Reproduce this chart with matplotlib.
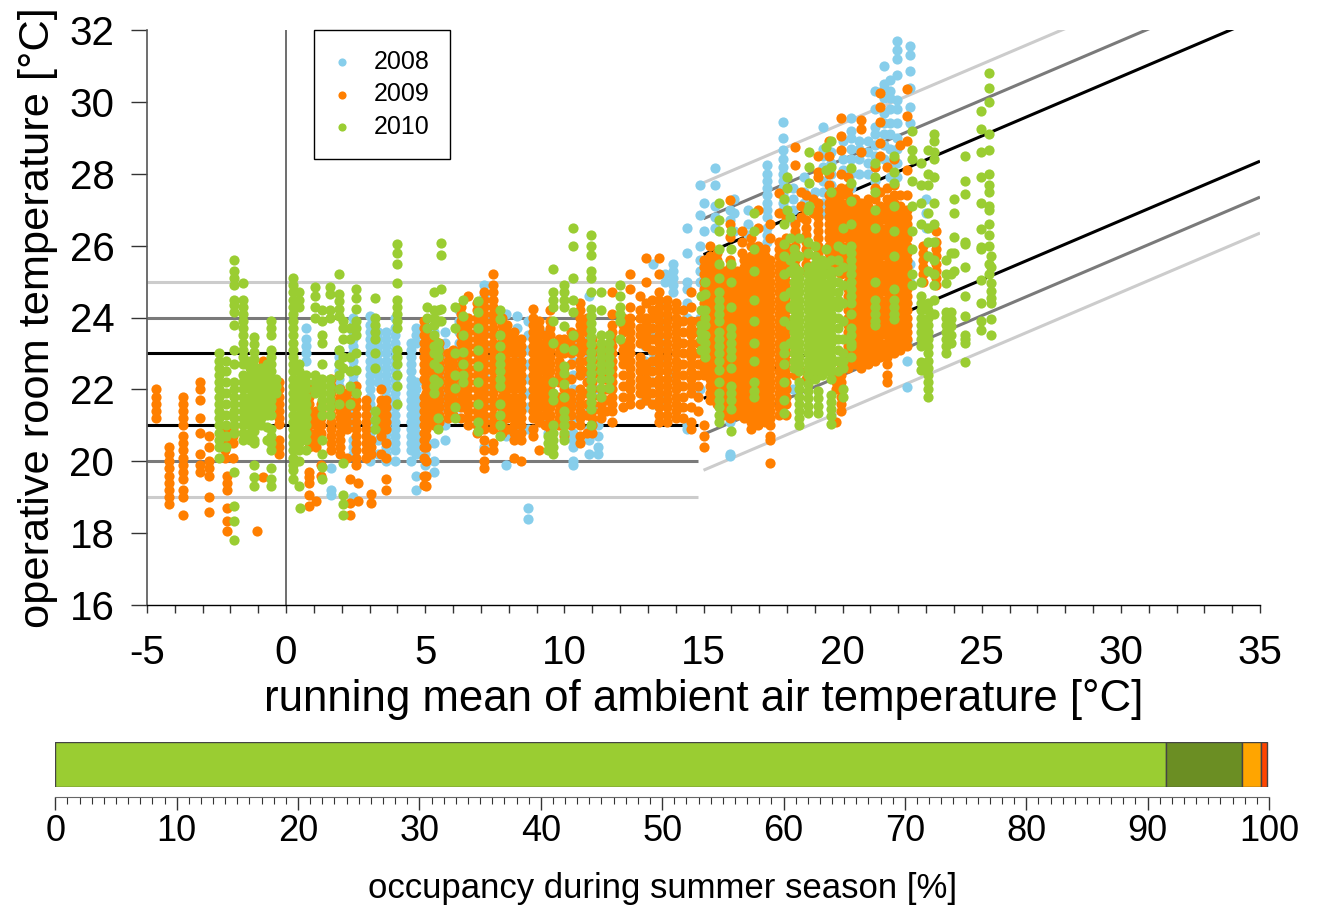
import matplotlib
matplotlib.use('Agg')
import matplotlib.pyplot as plt
from matplotlib.ticker import MultipleLocator

plt.rcParams['font.family'] = ['Liberation Sans', 'DejaVu Sans']
plt.rcParams['axes.unicode_minus'] = False

# columns of readings, (running mean, [room temperatures])
pts_2008 = [
    (0.72,[23.7,23.4,23.2,23.0,22.8]),
    (1.6,[19.8,19.05,19.2]),
    (1.9,[23.1,22.9,22.7,22.5,22.3,22.1]),
    (2.4,[24.0,23.8,23.6,23.4,23.2,23.0,22.8,22.6,22.4,22.2,22.0,21.8,21.6,21.4,21.2,21.0,20.6,20.4,20.2,19.0]),
    (3.0,[24.05,23.8,23.6,23.4,23.2,23.0,22.8,22.6,22.4,22.2,22.0,21.8,21.6,21.4,21.2,21.0,20.8,20.6,20.4,20.2,20.0]),
    (3.3,[23.6,23.4,23.2,23.0,22.8,22.6,22.4,22.2,21.4,21.0,20.6,20.2]),
    (3.6,[23.6,23.4,23.2,23.0,22.8,22.6,22.4,22.2,22.0,21.8,21.6,21.4,21.2,21.0,20.8,20.6,20.4,20.2,20.0]),
    (3.9,[24.0,23.7,23.5,23.3,23.1,22.9,22.7,22.5,22.3,22.1,21.9,21.7,21.5,21.3,21.1,20.9,20.7,20.5,20.3,20.0]),
    (4.5,[23.3,23.1,22.9,22.7,22.5,22.3,22.1,21.9,21.7,21.5,21.3,21.1,20.9,20.7,20.5,20.3,20.0]),
    (4.67,[23.7,23.5,23.3,22.2,22.0,21.8,21.6,21.4,21.2,21.0,20.8,20.6,20.4,20.2,19.6,19.2]),
    (5.0,[23.8,23.4,23.0,22.6,22.2,21.8,21.4,21.0,20.6,20.2,19.9]),
    (5.3,[23.6,23.0,22.4,22.0,21.0,20.5,20.0,19.7]),
    (5.7,[23.6,23.3,23.0,22.7,22.4,22.1,21.8,21.5,21.0,20.6]),
    (6.2,[24.2,23.9,23.6,23.3,23.0,22.7,22.4,22.1,21.8,21.5,21.2]),
    (7.1,[24.9,24.6,24.3,24.0,23.6,23.2,22.8,22.4,22.0,21.6,21.2,20.4]),
    (7.9,[24.1,23.8,23.5,23.2,22.8,22.4,22.0,21.6,21.2,20.7,19.9]),
    (8.3,[24.05,23.7,23.3,22.9,22.5,22.1,21.7,21.3,20.8]),
    (8.7,[23.9,23.5,23.1,22.7,22.3,21.9,21.5,20.9,18.7,18.4]),
    (9.4,[23.6,23.2,22.8,22.4,22.0,21.6,21.2,20.8]),
    (10.3,[23.2,22.8,22.4,22.0,21.6,21.2,20.8,20.6,20.4,19.9,20.0]),
    (10.9,[24.6,23.4,22.9,22.4,21.9,21.4,20.9,20.6,20.2]),
    (11.2,[23.0,22.5,22.0,21.5,21.0,20.7,20.4,20.2]),
    (12.9,[23.2,22.8,22.4,22.0,21.7]),
    (13.2,[25.5,24.0,23.5,23.0,22.6,22.2,21.6]),
    (13.6,[25.2,25.0,24.4,23.9,23.3,22.8,21.7]),
    (13.9,[25.5,25.3,25.1,24.9,24.7,22.4]),
    (14.4,[26.5,25.8,25.0,24.8,24.4,24.0,21.0,20.9]),
    (14.86,[27.7,26.85,26.0,25.6,25.3,25.0,24.0,22.0]),
    (15.0,[27.2,26.4,25.5,25.1,24.7]),
    (15.4,[28.15,27.7,27.1,26.8,26.5]),
    (15.94,[21.1,20.15,20.2,27.0,26.7]),
    (16.1,[27.3,26.9,26.4]),
    (16.6,[27.0,26.6,26.3]),
    (17.3,[28.25,28.0,27.8,27.6,27.4,27.2,27.0,26.8,26.5,26.3,26.1]),
    (17.85,[29.45,29.0,28.65,28.4,28.2,28.0,27.8,27.6,27.4,27.2,27.0]),
    (18.2,[27.6,27.3,27.0,26.7,22.0]),
    (18.6,[27.9,27.5,27.2]),
    (19.0,[27.5,27.2,27.0]),
    (19.3,[29.3,28.7,28.5,28.2,27.8,27.5,27.2,26.9]),
    (19.6,[28.6,28.3,28.0,27.7]),
    (20.0,[28.9,28.4,28.1]),
    (20.3,[29.55,29.2,29.0,28.7,28.4,28.0,27.6,27.2]),
    (20.6,[28.9,28.7,28.4,28.0,22.7]),
    (20.9,[28.9,28.6,28.3,28.0]),
    (21.15,[30.3,29.8,29.3,29.1,28.8,28.5,28.2,27.8]),
    (21.5,[31.0,30.5,30.4,30.1,29.7,29.4,29.1,28.8,28.4]),
    (21.7,[30.6,30.3,30.1,29.8,29.4,29.1,28.7,28.3,27.9,23.3]),
    (21.96,[31.7,31.45,31.2,30.75,30.05,29.8,29.4,29.0,28.7,28.3,27.9]),
    (22.3,[23.8,23.35,22.8,22.07,25.0,24.4]),
    (22.43,[31.55,31.3,30.85,30.4,29.85,29.4,25.5,25.0]),
    (23.0,[27.3,26.9,26.5]),
]

pts_2009 = [
    (-4.66,[22.0,21.8,21.6,21.4,21.2]),
    (-4.22,[20.4,20.2,20.0,19.8,19.6,19.4,19.2,19.0,18.8]),
    (-3.7,[21.8,21.6,21.4,21.2,21.0,20.7,20.5,20.3,20.1,19.9,19.7,19.5,19.2,19.0,18.5]),
    (-3.08,[22.2,22.0,21.7,21.2,20.8,20.2,19.9,19.7]),
    (-2.78,[20.7,20.4,20.0,19.8,19.6,19.0,18.6]),
    (-2.2,[20.9,20.7,20.5,20.3,20.1]),
    (-2.12,[19.6,19.4,19.2,18.7,18.35,18.05]),
    (-1.9,[20.9,20.7,20.5,20.1]),
    (-1.03,[18.05]),
    (-0.84,[22.8,21.6,19.55]),
    (-0.24,[22.2,22.0,21.8,21.6,21.4,21.2,21.05,20.6,20.4,20.2]),
    (0.84,[22.0,21.8,21.6,21.4,21.2,21.0,20.8,20.6,20.4,19.7,19.55,19.4,19.05,18.75]),
    (1.08,[21.4,21.2,21.0,20.8,20.6,20.4,18.9]),
    (1.26,[21.6,21.4,21.2,21.0,20.8,19.9,19.6]),
    (1.6,[22.3,22.1,21.9,21.7,21.5,21.3,21.1,20.9,20.7,20.5,20.3]),
    (1.92,[22.0,21.8,21.6,21.4,21.2,21.0,20.8,20.6,20.4,20.2]),
    (2.2,[21.9,21.7,21.5,21.3,21.1,20.9,20.1]),
    (2.3,[19.5,18.85,18.5]),
    (2.5,[22.1,21.9,21.7,21.5,21.3,21.1,20.9,20.7,20.5,20.3,20.1,19.9]),
    (2.6,[19.4,18.9]),
    (2.87,[21.7,21.5,21.3,21.1,20.9,20.7,20.5,20.3,20.1]),
    (3.05,[20.6,20.4,20.2,19.1,18.85]),
    (3.4,[22.0,21.7,21.5,21.3,21.1,20.9,20.7,20.2]),
    (3.6,[21.7,21.5,21.3,21.1,20.9,20.5,20.1,19.5,19.2]),
    (4.95,[23.9,23.7,23.5,23.3,23.1,22.9,22.7,22.5,22.3,21.8,21.6,21.4,21.2,21.0,20.8,20.6,20.4,20.1,19.6,19.35]),
    (5.04,[23.5,23.3,23.1,22.9,22.7,22.5,22.3,22.1,21.9,21.7,21.5,21.3,21.1,20.9,20.7,20.4,20.0,19.6,19.3]),
    (5.3,[23.4,23.2,23.0,22.8,22.6,22.4,22.2,22.0,21.8,21.6,21.4,21.2,21.0]),
    (5.5,[23.3,23.1,22.9,22.7,22.5,22.3,22.1,21.9,21.7,21.5,21.3,21.1]),
    (5.8,[23.0,22.8,22.6,22.4,22.2,22.0,21.8,21.6,21.4,21.2]),
    (6.0,[23.1,22.9,22.7,22.5,22.3,22.1,21.9,21.7,21.5,21.3]),
    (6.3,[24.3,24.1,23.9,23.7,23.5,23.3,23.1,22.9,22.7,22.5,22.3,22.1,21.9,21.7,21.5,21.2]),
    (6.55,[24.6,24.0,23.8,23.6,23.4,23.2,23.0,22.8,22.6,22.4,22.2,22.0,21.8,21.6,21.4,21.2,21.0]),
    (6.85,[24.4,24.2,24.0,23.8,23.6,23.4,23.2,23.0,22.8,22.6,22.4,22.2,22.0,21.8,21.6,21.4,21.2,21.0,20.8]),
    (7.1,[24.7,24.5,24.3,24.1,23.9,23.7,23.5,23.3,23.1,22.9,22.7,22.5,22.3,22.1,21.9,21.7,21.5,21.3,21.1,20.9,20.6,20.3,20.0,19.8]),
    (7.45,[25.2,24.9,24.7,24.5,24.3,24.1,23.9,23.7,23.5,23.3,23.1,22.9,22.7,22.5,22.3,22.1,21.9,21.7,21.5,21.3,21.1,20.9,20.5,20.3]),
    (7.75,[24.0,23.8,23.6,23.4,23.2,23.0,22.8,22.6,22.4,22.2,22.0,21.8,21.6,21.4,21.2,21.0,20.8]),
    (7.95,[23.8,23.6,23.4,23.2,23.0,22.8,22.6,22.4,22.2,22.0,21.8,21.6,21.4,21.2,20.9]),
    (8.2,[23.6,23.4,23.2,23.0,22.8,22.6,22.4,22.2,22.0,21.8,21.6,21.4,21.2,21.0,20.8,20.6,20.1]),
    (8.45,[23.4,23.2,23.0,22.8,22.6,22.4,22.2,22.0,21.8,21.6,21.4,21.2,21.0,20.8,20.6,20.0]),
    (8.87,[24.25,24.0,23.8,23.6,23.4,23.2,23.0,22.8,22.6,22.4,22.2,22.0,21.8,21.6,21.4,21.2,20.9,20.7]),
    (9.1,[23.9,23.7,23.5,23.3,23.1,22.9,22.7,22.5,22.3,22.1,21.9,21.7,21.5,21.3,21.1,20.3]),
    (9.3,[23.5,23.3,23.1,22.9,22.7,22.5,22.3,22.1,21.9,21.7,21.5,21.3,21.0]),
    (9.5,[24.2,23.9,23.7,23.5,23.3,23.1,22.9,22.7,22.5,22.3,22.1,21.9,21.7,21.5,21.3,21.1,20.9,20.7]),
    (9.8,[23.4,23.2,23.0,22.8,22.6,22.4,22.2,21.8,21.6,21.4,21.2,21.0]),
    (10.0,[23.4,23.2,23.0,22.6,22.4,22.0,21.8,21.6,21.4,21.2,21.0,20.7]),
    (10.25,[23.6,23.4,23.2,23.0,22.7,22.3,21.9,21.7,21.5,21.3,21.0]),
    (10.55,[24.4,24.2,24.0,23.8,23.6,23.4,23.2,23.0,22.8,22.6,22.4,22.0,21.8,21.6,21.4,21.2,21.0,20.7,20.5]),
    (10.8,[24.0,23.8,23.6,23.3,23.1,22.8,22.5,22.2,21.9,21.6,21.3,20.8]),
    (11.0,[23.4,23.2,23.0,22.8,22.6,22.4,22.2,22.0,21.8,21.6,21.4,21.2,21.0,20.8]),
    (11.3,[23.2,22.8,22.6,22.4,22.0,21.8,21.6,21.4,21.2]),
    (11.5,[22.9,22.6,22.3,22.0,21.7,21.4]),
    (11.7,[24.7,24.1,23.8,23.6,23.4,23.2,23.0,22.8,22.6,22.4,22.2,22.0,21.8,21.6,21.4,21.1]),
    (12.1,[24.0,23.8,23.6,23.3,23.1,22.9,22.7,22.4,22.1,21.8,21.5]),
    (12.35,[25.2,24.8,24.3,24.0,23.8,23.6,23.4,23.2,23.0,22.8,22.6,22.4,22.2,22.0,21.8,21.6]),
    (12.7,[24.6,24.2,24.0,23.7,23.5,23.3,22.9,22.7,22.5,22.3,22.1,21.9,21.6]),
    (12.95,[25.65,25.0,24.4,24.0,23.8,23.6,23.4,23.2,22.7,22.5,22.3,22.1,21.9,21.7]),
    (13.15,[24.5,24.2,24.0,23.7,23.4,23.1,22.8,22.5,22.2,21.9,21.6]),
    (13.4,[25.65,25.2,24.7,24.5,24.3,24.1,23.9,23.7,23.5,23.3,23.1,22.9,22.7,22.5,22.3,22.1,21.9,21.7,21.5,21.3,21.1]),
    (13.7,[24.5,24.3,24.1,23.9,23.7,23.5,23.3,23.1,22.9,22.7,22.5,22.3,22.1,21.9,21.7,21.5,21.3,21.1]),
    (14.0,[24.4,24.2,24.0,23.8,23.6,23.4,23.2,23.0,22.8,22.6,22.4,22.2,22.0,21.8,21.6,21.4,21.2]),
    (14.25,[24.2,23.9,23.6,23.3,23.0,22.7,22.4,22.1,21.8,21.5,21.2]),
    (14.56,[24.7,24.3,23.9,23.7,23.5,23.3,23.1,22.9,22.7,22.5,22.3,22.1,21.9,21.5,21.1,20.9]),
    (14.8,[23.9,23.6,23.3,23.0,22.7,22.4,22.1,21.8,21.4]),
    (15.0,[20.4,20.7,21.0,22.4,22.6,22.8,23.0,23.2,23.4,23.6,23.8,24.0,24.2,24.4,24.6,24.8,25.0,25.2,25.4,25.6]),
    (15.25,[21.7,21.9,22.1,22.3,22.5,22.7,22.9,23.1,23.3,23.5,23.7,23.9,24.1,24.3,24.5,24.7,24.9,25.1,25.3,25.5,25.7,26.0]),
    (15.5,[21.6,21.8,22.0,22.2,22.4,22.6,22.8,23.0,23.2,23.4,23.6,23.8,24.0,24.2,24.4,24.6,24.8,25.0,25.2,25.4,25.6,25.8]),
    (15.75,[21.3,21.5,21.7,21.9,22.1,22.3,22.5,22.7,22.9,23.1,23.3,23.5,23.7,23.9,24.1,24.3,24.5,24.7,24.9,25.1,25.3]),
    (15.94,[21.2,21.4,21.6,21.8,22.0,22.2,22.4,22.6,22.8,23.0,23.2,23.4,23.6,23.8,24.0,24.2,24.4,24.6,24.8,25.0,25.2,25.4,25.6,26.25,26.6,27.27]),
    (16.2,[21.3,21.5,21.7,21.9,22.1,22.3,22.5,22.7,22.9,23.1,23.3,23.5,23.7,23.9,24.1,24.3,24.5,24.7,24.9,25.1,25.3]),
    (16.4,[25.8,26.1,26.4]),
    (16.45,[21.2,21.4,21.6,21.8,22.0,22.2,22.4,22.6,22.8,23.0,23.2,23.4,23.6,23.8,24.0,24.2,24.4,24.6,24.8,25.0,25.2,25.4,25.6]),
    (16.7,[20.9,21.1,21.3,21.5,21.7,21.9,22.1,22.3,22.5,22.7,22.9,23.1,23.3,23.5,23.7,23.9,24.1,24.3,24.5,24.7,24.9,25.1,25.3,25.5,25.7,26.0,26.2]),
    (16.95,[21.0,21.2,21.4,21.6,21.8,22.0,22.2,22.4,22.6,22.8,23.0,23.2,23.4,23.6,23.8,24.0,24.2,24.4,24.6,24.8,25.0,25.2,25.4,25.6,25.8,26.0,26.5,27.0]),
    (17.2,[21.1,21.3,21.5,21.7,21.9,22.1,22.3,22.5,22.7,22.9,23.1,23.3,23.5,23.7,23.9,24.1,24.3,24.5,24.7,24.9,25.1,25.3,25.5,25.7,25.9]),
    (17.4,[19.96,20.6,20.7,21.0,21.2,21.4,21.6,21.8,22.0,22.2,22.4,22.6,22.8,23.0,23.2,23.4,23.6,23.8,24.0,24.2,24.4,24.6,24.8,25.0,25.2,25.4,25.6,26.2,26.6]),
    (17.7,[21.3,21.5,21.7,21.9,22.1,22.3,22.5,22.7,22.9,23.1,23.3,23.5,23.7,23.9,24.1,24.3,24.5,24.7,24.9,25.1,25.3,25.5,25.7,25.9,26.1,26.9,27.47]),
    (17.95,[21.3,21.6,21.8,22.0,22.2,22.4,22.6,22.8,23.0,23.2,23.4,23.6,23.8,24.0,24.2,24.4,24.6,24.8,25.0,25.2,25.4,25.6,25.8,26.0,26.2,26.8]),
    (18.3,[22.4,22.6,22.8,23.0,23.2,23.4,23.6,23.8,24.0,24.2,24.4,24.6,24.8,25.0,25.2,25.4,25.6,25.8,26.0,26.2,26.4,26.6,28.25,28.75]),
    (18.5,[26.8,27.1,27.5]),
    (18.7,[22.3,22.5,25.3,25.5,25.7,25.9,26.1,26.3,26.5,26.7,27.0,27.4]),
    (18.95,[26.9,27.3]),
    (19.1,[22.4,25.6,25.8,26.0,26.2,26.4,26.6,26.8,27.0,27.2,28.05,28.5,27.9]),
    (19.5,[22.5,25.4,25.6,25.8,26.0,26.2,26.4,26.6,26.8,27.0,27.2,27.4,27.7,28.0,28.5,28.9]),
    (19.77,[21.1,22.0,22.2,22.4,25.3,25.5,25.7,25.9,26.1,26.3,26.5,26.7,26.9,27.1,27.3,27.5]),
    (19.95,[21.4,21.6,21.8,22.0,22.2,22.4,22.6,25.2,25.4,25.6,25.8,26.0,26.2,26.4,26.6,26.8,27.0,27.2,27.4,27.6,28.0,28.65,29.05,29.55]),
    (20.2,[22.6,22.8,23.0,23.2,23.4,23.6,23.8,24.0,24.2,24.4,24.6,24.8,25.0,25.2,25.4,25.6,25.8,26.0,26.2,26.4,26.6,26.8,27.0,27.2,27.4,27.6,27.9]),
    (20.45,[22.7,22.9,23.1,23.3,23.5,23.7,23.9,24.1,24.3,24.5,24.7,24.9,25.1,25.3,25.5,25.7,25.9,26.1,26.3,26.5,26.7,26.9,27.1,27.3]),
    (20.65,[22.6,22.8,23.0,23.2,23.4,23.6,23.8,24.0,24.2,24.4,24.6,24.8,25.0,25.2,25.4,25.6,25.8,26.0,26.2,26.4,26.6,26.8,27.0,27.2,28.6,29.25,29.5]),
    (20.9,[22.7,22.9,23.1,23.3,23.5,23.7,23.9,24.1,24.3,24.5,24.7,24.9,25.1,25.3,25.5,25.7,25.9,26.1,26.3,26.5,26.7,26.9,27.1,27.3]),
    (21.15,[22.8,23.0,23.2,23.4,23.6,23.8,24.0,24.2,24.4,24.6,24.8,25.0,25.2,25.4,25.6,25.8,26.0,26.2,26.4,26.6,26.8,27.0,27.3,27.6,28.2]),
    (21.35,[22.9,23.1,23.3,23.5,23.7,23.9,24.1,24.3,24.5,24.7,24.9,25.1,25.3,25.5,25.7,25.9,26.1,26.3,26.5,26.7,26.9,27.1,27.5,28.5,28.85,29.45,29.85,30.25]),
    (21.6,[22.2,22.4,22.7,22.9,23.1,23.3,23.5,23.7,23.9,24.1,24.3,24.5,24.7,24.9,25.1,25.3,25.5,25.7,25.9,26.1,26.3,26.5,26.7,26.9,27.1,27.3,27.6,28.2]),
    (21.85,[23.0,23.2,23.4,23.6,23.8,24.0,24.2,24.4,24.6,24.8,25.0,25.2,25.4,25.6,25.8,26.0,26.2,26.4,26.6,26.8,27.0,27.2,27.4,27.7,28.4]),
    (22.05,[23.1,23.3,23.5,23.7,23.9,24.1,24.3,24.5,24.7,24.9,25.1,25.3,25.5,25.7,25.9,26.1,26.3,26.5,26.7,26.9,27.1,27.4,28.8]),
    (22.3,[23.2,23.4,23.6,23.8,24.0,24.2,24.4,24.6,24.8,25.0,25.2,25.4,25.6,25.8,26.0,26.2,26.4,26.6,26.8,27.0,27.4,28.1,28.9,29.6,30.35]),
    (23.36,[25.3,25.5,25.7,25.9,26.1,26.4,25.1,24.9]),
    (22.9,[25.0,25.2,25.4,25.6,25.8,26.0]),
]

pts_2010 = [
    (-2.4,[23.0,22.8,22.6,22.4,22.2,22.0,21.8,21.6,21.4,21.2,21.0,20.8,20.6,20.4,20.1]),
    (-2.15,[22.8,22.5,22.2,21.9,21.6,21.3,21.0,20.7,20.4]),
    (-1.88,[25.6,25.3,25.1,24.9,24.5,24.35,24.15,23.8,23.1,22.7,22.2,22.0,21.8,21.6,21.4,21.2,21.0,20.8,19.7,18.75,18.35,17.8]),
    (-1.55,[24.95,24.5,24.3,24.1,23.9,23.7,23.5,23.3,23.1,22.9,22.7,22.4,22.2,22.0,21.8,21.6,21.4,21.2,21.0,20.8,20.6]),
    (-1.3,[22.8,22.6,22.4,22.2,22.0,21.8,21.6,21.4,21.2,21.0,20.8,20.6]),
    (-1.14,[23.45,23.25,23.05,22.85,22.65,22.45,22.25,22.05,21.85,21.65,21.45,21.25,21.05,20.85,20.6,20.5,19.9,19.55,19.3]),
    (-0.9,[22.6,22.4,22.2,22.0,21.8,21.6,21.4,21.2,21.0]),
    (-0.7,[22.7,22.5,22.3,22.1,21.9,21.7,21.5,21.3,20.95,20.6]),
    (-0.54,[23.9,23.7,23.5,23.1,22.9,22.7,22.5,22.3,22.1,21.9,21.7,21.5,21.3,20.9,20.7,20.5,20.3,19.8,19.5,19.3]),
    (-0.35,[22.3,22.1,21.9]),
    (0.24,[25.1,24.9,24.7,24.5,24.3,24.1,23.9,23.7,23.5,23.3,23.1,22.9,22.7,22.5,22.3,22.1,21.9,21.7,21.5,21.3,21.1,20.9,20.7,20.5,20.3,20.1,19.9,19.75,19.5]),
    (0.48,[24.7,24.5,24.3,22.7,22.5,22.3,22.1,21.9,21.7,21.5,21.3,21.1,20.9,20.7,20.5,20.3,20.0,19.3]),
    (0.5,[18.7]),
    (0.72,[22.4,22.2,22.0,21.8,21.6,21.4,21.2,21.0,20.8,20.6,20.3]),
    (1.04,[24.85,24.6,24.3,24.0,22.4,22.2,22.0,21.9]),
    (1.3,[24.2,23.9,23.5,23.3,22.7,22.3,22.1,21.9,21.7,21.5,21.3,20.6,20.2,19.85,19.5]),
    (1.56,[24.85,24.65,24.2,24.0,22.3,22.1,21.9,21.7,21.5,21.3]),
    (1.9,[25.2,24.65,24.45,24.25,24.05,23.1,22.7,22.4,22.0,21.6]),
    (2.06,[23.9,23.7,23.4,22.9,22.6,19.95,19.05,18.8,18.5]),
    (2.5,[24.8,24.55,24.25,23.9,23.7,23.5,23.0,22.55,21.9]),
    (2.3,[23.7,23.4,22.9,22.5,22.1,21.6]),
    (3.2,[24.55,24.0,23.8,23.6,23.4,23.0,22.6,21.4,21.15,20.9]),
    (3.98,[26.05,25.8,25.5,24.95,24.5,24.3,24.1,23.9,23.7,23.1,22.9,22.7,22.4,22.1,21.6]),
    (5.05,[24.3,24.0,23.7]),
    (5.3,[24.7,24.2,24.0,23.8,23.5,23.2,23.0,22.7,22.3,22.1,21.9]),
    (5.45,[24.2,23.9,23.3,23.1,22.9,22.6,22.2,21.2,20.9]),
    (5.58,[26.06,25.74,24.8,24.25,23.9]),
    (6.06,[24.3,23.7,23.0,22.4,22.05,21.5,21.2]),
    (6.36,[24.5,24.05,23.5,23.05,22.7,22.4,22.2]),
    (6.9,[24.45,24.15,23.7,23.1,22.65,22.2,21.6,21.1,20.85]),
    (7.67,[24.2,23.95,23.5,23.2,22.9,22.7,22.5,22.3,22.1,21.6,21.3,21.0,20.7]),
    (9.6,[25.36,24.7,24.5,24.3,23.9,23.3,22.2,21.9,21.7,21.0,20.8,20.6,20.4,20.2]),
    (9.4,[20.7,20.5,20.3]),
    (10.0,[24.9,24.7,24.5,24.3,23.75,23.15,22.65,22.45,22.15,21.8,21.4,21.2,21.0,20.8,20.6]),
    (10.3,[26.5,26.0,25.1,24.5,24.15,23.5,23.1]),
    (10.95,[26.3,26.0,25.75,25.3,25.1,24.7,24.25,24.05,23.85,23.65,23.45,23.25,23.05,22.85,22.65,22.45,22.25,22.05,21.85,21.65,21.45,21.0]),
    (11.33,[24.7,24.2,23.5,23.3,23.1,22.9,22.7,22.5,22.3,22.05,21.8]),
    (11.6,[23.5,23.3,23.1,22.9,22.7,22.5,22.3,22.05]),
    (12.0,[24.9,24.6,24.3,24.1,23.9,23.4]),
    (14.9,[24.6,24.2,23.8,23.6,23.4,23.1]),
    (15.04,[25.0,24.65,24.2,24.0,23.8,23.5,23.3,23.1,22.9]),
    (15.55,[27.2,26.7,26.4,25.9,25.5,25.1,24.7,24.5,24.3,24.1,23.9,23.6,23.4,23.2,23.0,22.8,22.55,22.2,21.9,21.7,21.5,21.3,21.1]),
    (16.0,[26.4,25.9,25.5,25.0,24.3,23.7,23.5,23.3,23.1,22.9,22.6,22.1,21.9,21.7,21.45,20.85]),
    (16.83,[26.9,26.4,25.9,25.3,24.5,23.9,23.3,22.8,22.2,21.95,21.8]),
    (17.88,[27.3,26.6,26.05,25.7,25.2,24.6,23.9,23.2,23.0,22.7,22.2,21.7,21.35]),
    (18.0,[27.9,27.6,27.0]),
    (18.1,[26.8,26.2,25.6,25.3,24.7,24.3,23.8,23.3]),
    (18.25,[25.9,25.7,25.4,25.2,25.0,24.8,24.6,24.4,24.2,24.0,23.8,23.6,23.4,23.2,23.0,22.8,22.6]),
    (18.45,[26.2,25.7,25.3,25.1,24.9,24.7,24.5,24.3,24.1,23.9,23.7,23.5,23.3,23.1,22.9,22.7,22.5,22.2,22.0,21.8,21.6,21.4,21.2,21.0]),
    (18.75,[27.0,26.1,25.8,25.4,25.2,25.0,24.8,24.6,24.4,24.2,24.0,23.8,23.6,23.4,23.2,23.0,22.8,22.6,22.4,22.15,21.95,21.75,21.55,21.35]),
    (18.8,[28.6,28.2,27.75,27.1]),
    (19.0,[26.0,25.7,25.5,25.3,25.1,24.9,24.7,24.5,24.3,24.1,23.9,23.7,23.5,23.3,23.1,22.9,22.7,22.5,22.3]),
    (19.1,[21.95,21.75,21.55,21.35]),
    (19.25,[25.6,25.4,25.2,25.0,24.8,24.6,24.4,24.2,24.0,23.8,23.6,23.4,23.2,23.0,22.8,22.6,22.4]),
    (19.4,[28.75,25.9,25.5,25.2,24.9,24.6,24.3,24.1,23.9,23.7,23.5,23.3,23.1,22.9,22.7,22.5]),
    (19.4,[28.1]),
    (19.6,[28.9,28.2,27.5,25.6,25.3,25.1,24.9,24.7,24.5,24.3,24.1,23.9,23.7,23.5,23.3,23.1,22.9,22.7,22.5,22.3,21.85,21.65,21.45,21.25,21.05]),
    (19.85,[26.0,25.6,25.3,25.0,24.7,24.5,24.3,24.0,23.7,23.4,23.1,22.8,22.5]),
    (20.0,[26.5,25.9,25.4,24.9,24.4,23.9,23.4,23.0,22.8,22.6,22.0,21.8]),
    (20.3,[28.15,27.75,27.25,26.6,26.0,25.8,25.6,25.4,25.2,25.0,24.8,24.6,24.4,24.1,23.7,23.5,23.3,23.2,22.9]),
    (21.15,[28.3,27.9,27.5,27.0,26.5,25.0,24.5,24.3,24.1,23.9,23.8]),
    (21.86,[28.5,28.05,27.75,27.1,26.4,25.7,24.8,24.5,24.3,24.1,23.95]),
    (22.5,[29.2,28.65,28.4,27.8,27.1,26.4,25.9,25.2,24.9]),
    (22.8,[28.3,27.7,27.2,26.6,25.0,24.6,24.4,24.2,24.0,23.8,23.6,23.4,23.2,22.75,22.55]),
    (23.06,[28.65,28.0,27.7,26.9,26.5,26.1,25.7,25.3,24.4,24.2,24.0,23.8,23.6,23.4,23.2,23.0,22.8,22.6,22.4,22.2,22.0,21.8]),
    (23.27,[29.1,28.9,28.6,28.4,27.9,27.2,26.6,26.1,25.6,25.2,24.9,24.5,24.1]),
    (23.72,[25.6,25.2,24.95,24.16,24.0,23.8,23.6,23.4,23.2,23.0]),
    (23.9,[25.8,25.2,24.16,23.95,23.75,23.5,23.3]),
    (24.0,[27.3,26.9,26.25,25.8,25.3]),
    (24.4,[28.5,27.8,27.45,26.1,26.05,25.4,24.6,24.05,23.5,23.4,23.3,22.77]),
    (24.98,[29.75,29.25,28.6,27.9,27.2,26.45,25.9,25.97,25.05,24.4,23.9,23.65]),
    (25.25,[30.8,30.4,30.0,29.1,28.66,28.0,27.7,27.5,27.1,27.0,26.6,26.3,26.0,25.5,25.2]),
    (25.34,[25.7,25.4,24.95,24.75,24.55,24.4,23.95,23.5]),
]

years = ['2008', '2009', '2010']
year_colors = ['#87ceeb', '#ff7f00', '#9acd32']

# comfort band ends
flat_x = [-5, 14.8]
flat_y = [25, 24, 23, 21, 20, 19]
slope_x = [15, 35]
slope_y = [[27.75, 34.35], [26.75, 33.35], [25.75, 32.35], [21.75, 28.35], [20.75, 27.35], [19.75, 26.35]]
band_colors = ['#cccccc', '#7a7a7a', '#000000', '#000000', '#7a7a7a', '#cccccc']

# occupancy bar
occ_share = [91.5, 6.25, 1.6, 0.5]
occ_colors = ['#9acd32', '#6b8e23', '#ffa500', '#ff4500']

W, H = 1317, 906
fig = plt.figure(figsize=(W / 100, H / 100), dpi=100)
ax = fig.add_axes([147 / W, 1 - 605 / H, (1260 - 147) / W, (605 - 30) / H])

for y, ys, c in zip(flat_y, slope_y, band_colors):
    ax.plot(flat_x, [y, y], color=c, lw=2.2, solid_capstyle='butt', zorder=1)
    ax.plot(slope_x, ys, color=c, lw=2.2, solid_capstyle='butt', zorder=1)
ax.axvline(0, color='#555555', lw=1.2, zorder=1)

for pts, name, c in zip([pts_2008, pts_2009, pts_2010], years, year_colors):
    xs = []
    ys = []
    for x, col in pts:
        xs += [x] * len(col)
        ys += col
    ax.scatter(xs, ys, s=54, color=c, linewidths=0, label=name, zorder=2, clip_on=False)

ax.set_xlim(-5, 35)
ax.set_ylim(16, 32)
ax.xaxis.set_major_locator(MultipleLocator(5))
ax.xaxis.set_minor_locator(MultipleLocator(1))
ax.yaxis.set_major_locator(MultipleLocator(2))
ax.spines['top'].set_visible(False)
ax.spines['right'].set_visible(False)
ax.spines['left'].set_color('#555555')
ax.spines['left'].set_linewidth(1.2)
ax.spines['bottom'].set_linewidth(1)
ax.tick_params(axis='x', which='both', length=6, width=1, direction='out', labelsize=29, pad=15, color='#333333')
ax.tick_params(axis='y', which='major', length=11.5, width=1, direction='out', labelsize=29, pad=12, color='#333333')
ax.set_xlabel('running mean of ambient air temperature [°C]', fontsize=31.5, labelpad=5)
ax.set_ylabel('operative room temperature [°C]', fontsize=31.2, labelpad=8)

leg = ax.legend(loc='upper left', bbox_to_anchor=(167 / 1113, 1.0), borderaxespad=0, fontsize=18,
                frameon=True, fancybox=False, framealpha=1, edgecolor='black', labelspacing=0.33,
                borderpad=0.8, handlelength=0.64, handletextpad=0.95, scatterpoints=1, markerscale=0.8)
leg.get_frame().set_linewidth(1)

ax2 = fig.add_axes([55.3 / W, 1 - 786.7 / H, (1269 - 55.3) / W, 45 / H])
left = 0
for share, c in zip(occ_share, occ_colors):
    ax2.barh(0, share, left=left, height=1, color=c, edgecolor='#444444', linewidth=1)
    left += share
ax2.set_xlim(0, 100)
ax2.set_ylim(-0.5, 0.5)
ax2.set_yticks([])
ax2.xaxis.set_major_locator(MultipleLocator(10))
ax2.xaxis.set_minor_locator(MultipleLocator(1))
for s in ['top', 'left', 'right']:
    ax2.spines[s].set_visible(False)
ax2.spines['bottom'].set_position(('outward', 7.4))
ax2.spines['bottom'].set_color('#666666')
ax2.tick_params(axis='x', which='major', length=9.5, width=1, labelsize=26, pad=3, color='#333333')
ax2.tick_params(axis='x', which='minor', length=5, width=0.8, color='#333333')
ax2.set_xlabel('occupancy during summer season [%]', fontsize=25, labelpad=16)

fig.savefig('out.png', dpi=100)
